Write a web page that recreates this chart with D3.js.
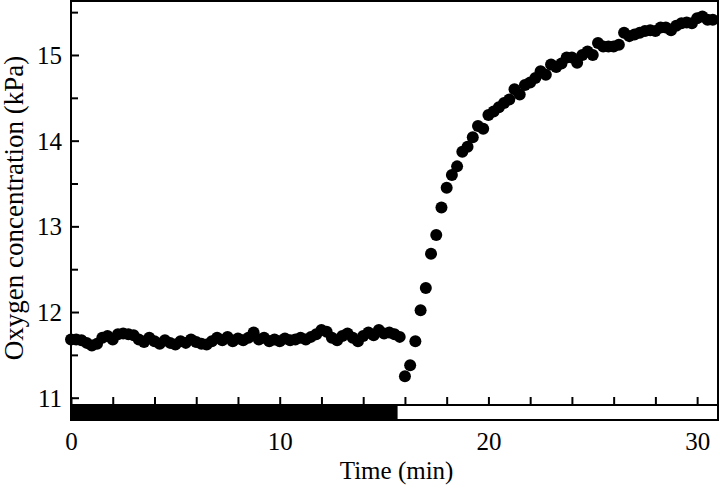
<!DOCTYPE html>
<html>
<head>
<meta charset="utf-8">
<script src="https://cdn.jsdelivr.net/npm/d3@7"></script>
<style>
  body { margin: 0; background: #fff; }
</style>
</head>
<body>
<div class="chart"></div>
<script>
// sample times (min), one reading every 15 s
var times = d3.range(124).map(i => i * 0.25);

// oxygen readings (kPa)
var oxygen = [
  11.68, 11.68, 11.67, 11.64, 11.61, 11.63, 11.70, 11.72, 11.68, 11.74,
  11.75, 11.74, 11.73, 11.68, 11.65, 11.70, 11.66, 11.63, 11.67, 11.64,
  11.62, 11.66, 11.64, 11.68, 11.65, 11.63, 11.62, 11.66, 11.70, 11.67,
  11.71, 11.66, 11.69, 11.67, 11.70, 11.76, 11.68, 11.70, 11.66, 11.68,
  11.66, 11.69, 11.67, 11.68, 11.70, 11.68, 11.71, 11.74, 11.79, 11.77,
  11.70, 11.67, 11.72, 11.75, 11.70, 11.66, 11.72, 11.76, 11.73, 11.79,
  11.75, 11.76, 11.74, 11.71,
  11.25, 11.38, 11.66, 12.02, 12.28, 12.68, 12.90, 13.22,
  13.45, 13.60, 13.70, 13.87, 13.93, 14.04, 14.17, 14.14, 14.30, 14.34,
  14.39, 14.44, 14.48, 14.60, 14.54, 14.65, 14.68, 14.73, 14.81, 14.77,
  14.89, 14.86, 14.90, 14.97, 14.97, 14.91, 15.00, 15.04, 15.00, 15.14,
  15.10, 15.10, 15.10, 15.12, 15.26, 15.22, 15.24, 15.26, 15.28, 15.29,
  15.28, 15.32, 15.32, 15.29, 15.34, 15.37, 15.38, 15.37, 15.43, 15.45,
  15.41, 15.41
];

// dark / light period boundaries (min)
var phaseBounds = [0, 15.6, 31];

var xMajorTicks = [0, 10, 20, 30];
var xMinorTicks = d3.range(0, 31, 2);
var yMajorTicks = [11, 12, 13, 14, 15];
var yMinorTicks = [11.5, 12.5, 13.5, 14.5, 15.5];

var serif = "'Liberation Serif'";

var svgWidth = 720;
var svgHeight = 495;

var margin = {
  top: 1,
  right: 2,
  bottom: 75,
  left: 71
};

var width = svgWidth - margin.left - margin.right;
var plotHeight = 404;      // data area
var barHeight = 15;        // dark/light strip under the data

var svg = d3.select(".chart")
  .append("svg")
  .attr("width", svgWidth)
  .attr("height", svgHeight);

var chartGroup = svg.append("g")
  .attr("transform", `translate(${margin.left}, ${margin.top})`);

var xScale = d3.scaleLinear()
  .domain([0, 31])
  .range([0, width]);

var yScale = d3.scaleLinear()
  .domain([10.915, 15.63])
  .range([plotHeight, 0]);

// dark / light strip
chartGroup.selectAll(".phase")
  .data(d3.pairs(phaseBounds))
  .enter()
  .append("rect")
  .attr("class", "phase")
  .attr("x", d => xScale(d[0]))
  .attr("y", plotHeight)
  .attr("width", d => xScale(d[1]) - xScale(d[0]))
  .attr("height", barHeight)
  .attr("fill", (d, i) => i === 0 ? "#000" : "#fff")
  .attr("stroke", "#000")
  .attr("stroke-width", 2);

// y axis ticks (pointing inward)
var leftMajor = d3.axisLeft(yScale)
  .tickValues(yMajorTicks)
  .tickSizeInner(-8)
  .tickSizeOuter(0)
  .tickPadding(9)
  .tickFormat(d3.format("d"));

var leftMinor = d3.axisLeft(yScale)
  .tickValues(yMinorTicks)
  .tickSizeInner(-7)
  .tickSizeOuter(0)
  .tickFormat("");

[leftMajor, leftMinor].forEach(function(ax) {
  var g = chartGroup.append("g").call(ax);
  g.select(".domain").remove();
  g.selectAll("line").attr("stroke-width", 2);
  g.selectAll("text")
    .style("font-family", serif)
    .style("font-size", "25px")
    .attr("dy", "0.34em");
});

// x axis ticks on top of the strip
var bottomMinor = d3.axisBottom(xScale)
  .tickValues(xMinorTicks)
  .tickSizeInner(-8)
  .tickSizeOuter(0)
  .tickFormat("");

var gx = chartGroup.append("g")
  .attr("transform", `translate(0, ${plotHeight})`)
  .call(bottomMinor);
gx.select(".domain").remove();
gx.selectAll("line").attr("stroke-width", 2);

// x labels under the strip
var bottomLabels = d3.axisBottom(xScale)
  .tickValues(xMajorTicks)
  .tickSize(0)
  .tickPadding(12)
  .tickFormat(d3.format("d"));

var gxl = chartGroup.append("g")
  .attr("transform", `translate(0, ${plotHeight + barHeight})`)
  .call(bottomLabels);
gxl.select(".domain").remove();
gxl.selectAll("text")
  .style("font-family", serif)
  .style("font-size", "25px");

// frame
chartGroup.append("rect")
  .attr("x", 0)
  .attr("y", 0)
  .attr("width", width)
  .attr("height", plotHeight + barHeight)
  .attr("fill", "none")
  .attr("stroke", "#000")
  .attr("stroke-width", 2);

// data points
chartGroup.selectAll("circle")
  .data(oxygen)
  .enter()
  .append("circle")
  .attr("cx", (d, i) => xScale(times[i]))
  .attr("cy", d => yScale(d))
  .attr("r", 6)
  .attr("fill", "#000");

// axis labels
chartGroup.append("text")
  .attr("transform", "rotate(-90)")
  .attr("y", 0 - margin.left + 14)
  .attr("x", 0 - 207)
  .attr("dy", "0.35em")
  .attr("text-anchor", "middle")
  .style("font-family", serif)
  .style("font-size", "27px")
  .text("Oxygen concentration (kPa)");

chartGroup.append("text")
  .attr("x", xScale(15.6))
  .attr("y", plotHeight + barHeight + 50)
  .attr("dy", "0.35em")
  .attr("text-anchor", "middle")
  .style("font-family", serif)
  .style("font-size", "25px")
  .text("Time (min)");
</script>
</body>
</html>
